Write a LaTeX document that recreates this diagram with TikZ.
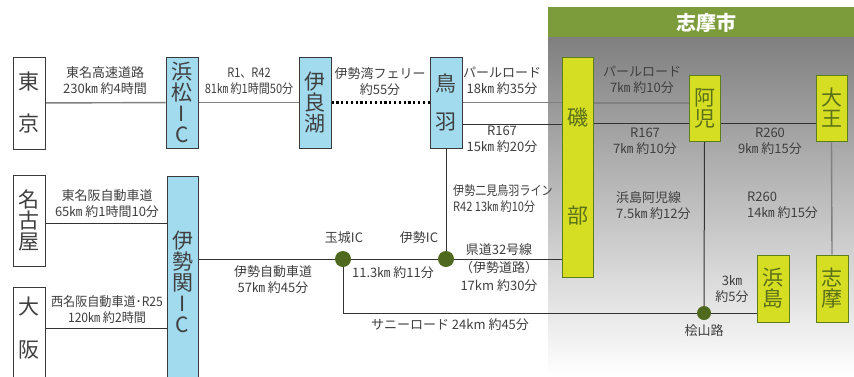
\documentclass[tikz,border=0pt]{standalone}
\usepackage{fontspec}
\setmainfont{Noto Sans CJK JP}
\newfontfamily\nf{Noto Sans CJK JP}[FakeStretch=0.85]
\newfontfamily\nfb{Noto Sans CJK JP}[FakeStretch=0.93]
\usetikzlibrary{calc}
\definecolor{txt}{HTML}{3F3F3F}
\definecolor{blu}{HTML}{A2DAEE}
\definecolor{ylw}{HTML}{D6DE23}
\definecolor{ybord}{HTML}{5E7D1E}
\definecolor{ytxt}{HTML}{5A7019}
\definecolor{shade}{HTML}{D8DCCC}
\definecolor{head}{HTML}{7C9C3C}
\definecolor{dotc}{HTML}{4F6A1F}
\definecolor{glc}{HTML}{808080}
\definecolor{dlc}{HTML}{333333}
\definecolor{bbord}{HTML}{3A3A3A}
\pgfdeclarelayer{front}
\pgfsetlayers{main,front}
\tikzset{
  boxbase/.style={rectangle, inner sep=0pt, line width=1pt, align=center,
    font=\fontsize{21}{21}\selectfont},
  wbox/.style={boxbase, draw=bbord, fill=white, text=txt},
  bbox/.style={boxbase, draw=bbord, fill=blu, text=txt},
  ybox/.style={boxbase, draw=ybord, fill=ylw, text=ytxt},
  boxtxt/.style={inner sep=0pt, align=center, font=\fontsize{21}{21}\selectfont, text=txt},
  lbl/.style={inner sep=0pt, align=center, text=txt, font=\fontsize{13}{16}\selectfont},
  nlbl/.style={lbl, font=\nf\fontsize{13}{16}\selectfont},
  mlbl/.style={lbl, font=\nfb\fontsize{13}{16}\selectfont},
  gline/.style={draw=glc, line width=1.4pt},
  dline/.style={draw=dlc, line width=1pt},
  ferry/.style={draw=black, line width=2.2pt, dash pattern=on 2.2pt off 2.6pt},
  jdot/.style={circle, fill=dotc, inner sep=0pt, minimum size=16pt},
}
\begin{document}
\begin{tikzpicture}[x=1pt,y=-1pt]
\useasboundingbox (0,0) rectangle (854,376);
\fill[white] (0,0) rectangle (854,376);
\fill[shade] (548,37) rectangle (854,376);
\fill[head] (548,7) rectangle (854,37);
\node[inner sep=0pt, text=white, font=\fontsize{20}{20}\selectfont\bfseries] (hdr) at (706,22.5) {志摩市};

\begin{pgfonlayer}{front}
% boxes
\node[wbox, minimum width=32pt, minimum height=92pt] (toukyou) at (29,103) {東\\[21pt]京};
\node[bbox, minimum width=32pt, minimum height=91pt] (hamamatsu) at (182,102.5) {浜\\松\\I\\C};
\node[bbox, minimum width=32pt, minimum height=91pt] (irago) at (315,102.5) {伊\\良\\湖};
\node[bbox, minimum width=32pt, minimum height=91pt] (toba) at (446,102.5) {鳥\\[17pt]羽};
\node[ybox, minimum width=31pt, minimum height=220pt] (isobe) at (577.5,167) {磯\\[77pt]部};
\node[ybox, minimum width=31pt, minimum height=66pt] (ago) at (704.5,108) {阿\\児};
\node[ybox, minimum width=31pt, minimum height=66pt] (daiou) at (831.5,108) {大\\王};
\node[ybox, minimum width=32pt, minimum height=67pt] (hamajima) at (773,288.5) {浜\\島};
\node[ybox, minimum width=32pt, minimum height=67pt] (shima) at (832,288.5) {志\\摩};
\node[wbox, minimum width=32pt, minimum height=91pt] (nagoya) at (29,220.5) {名\\古\\屋};
\node[wbox, minimum width=32pt, minimum height=96pt] (osaka) at (29,335) {};
\node[boxtxt] (osaka-t) at (29,328.5) {大\\[22pt]阪};
\node[bbox, minimum width=31pt, minimum height=206pt] (iseseki) at (182.5,279) {};
\node[boxtxt] (iseseki-t) at (182.5,282) {伊\\勢\\関\\I\\C};
% junction dots
\node[jdot] (tamaki) at (343,259) {};
\node[jdot] (iseic) at (446,259) {};
\node[jdot, minimum size=14pt] (hiyama) at (704,313) {};

% labels
\node[lbl] (l1) at (105,81) {東名高速道路\\230㎞ 約4時間};
\node[nlbl] (l2) at (249,81) {R1、R42\\81㎞ 約1時間50分};
\node[lbl] (l3) at (380,81.5) {伊勢湾フェリー\\約55分};
\node[lbl] (l4) at (502,81) {パールロード\\18㎞ 約35分};
\node[lbl] (l5) at (502,139.5) {R167\\15㎞ 約20分};
\node[lbl] (l6) at (642,79.5) {パールロード\\7㎞ 約10分};
\node[lbl] (l7) at (645,141) {R167\\7㎞ 約10分};
\node[lbl] (l8) at (770,141) {R260\\9㎞ 約15分};
\node[lbl, anchor=west, align=left] (l9) at (616,205.5) {浜島阿児線\\7.5㎞ 約12分};
\node[lbl, anchor=west, align=left] (l10) at (747,205.5) {R260\\14㎞ 約15分};
\node[lbl] (l11) at (732,289) {3㎞\\約5分};
\node[lbl] (l12) at (704,331) {桧山路};
\node[nlbl, anchor=west, align=left] (l13) at (453,199) {伊勢二見鳥羽ライン\\R42 13㎞ 約10分};
\node[lbl] (l14) at (344,238) {玉城IC};
\node[lbl] (l15) at (419,238) {伊勢IC};
\node[lbl, font=\fontsize{13}{18}\selectfont] (l16) at (499,268) {県道32号線\\（伊勢道路）\\17km 約30分};
\node[lbl] (l17) at (393,273) {11.3㎞ 約11分};
\node[lbl] (l18) at (450,325) {サニーロード 24km 約45分};
\node[lbl] (l19) at (273,280) {伊勢自動車道\\57㎞ 約45分};
\node[lbl] (l20) at (107,203.5) {東名阪自動車道\\65㎞ 約1時間10分};
\node[mlbl] (l21) at (107,310) {西名阪自動車道･R25\\120㎞ 約2時間};
\end{pgfonlayer}

% connectors
\coordinate (t167) at ([yshift=-21.5pt]toba.east);
\coordinate (a1) at ([yshift=5pt]ago.west);
\coordinate (a2) at ([yshift=-15pt]ago.west);
\coordinate (n1) at ([yshift=-2.5pt]nagoya.east);
\draw[gline] (toukyou) -- (hamamatsu);
\draw[gline] (hamamatsu) -- (irago);
\draw[ferry] (irago.east) -- (toba.west);
\draw[gline] (toba.east) -- (toba.east -| isobe.west);
\draw[dline] (t167) -- (t167 -| isobe.west);
\draw[gline] (a1 -| isobe.east) -- (a1);
\draw[dline] (a2 -| isobe.east) -- (a2);
\draw[dline] ([yshift=-15pt]ago.east) -- ([yshift=-15pt]daiou.west);
\draw[dline] (ago.south) -- (hiyama);
\draw[gline] (daiou.south) -- (shima.north);
\draw[dline] (toba.south) -- (iseic);
\draw[dline] (iseseki.east |- tamaki) -- (tamaki) -- (iseic) -- (iseic -| isobe.west);
\draw[dline] (tamaki) |- (hiyama);
\draw[dline] (hiyama) -- (hiyama -| hamajima.west);
\draw[dline] (n1) -- (n1 -| iseseki.west);
\draw[dline] (osaka-t -| osaka.east) -- (osaka-t -| iseseki.west);
\end{tikzpicture}
\end{document}
